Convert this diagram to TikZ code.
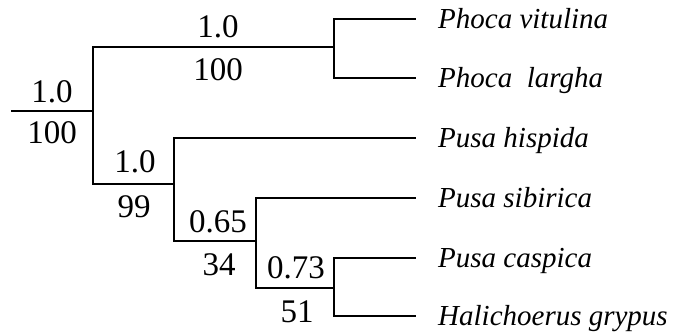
\documentclass[tikz,border=0pt]{standalone}
\usepackage{fontspec}
\setmainfont{Liberation Serif}
\begin{document}
\begin{tikzpicture}[x=1pt,y=-1pt,
  branch/.style={line width=2.2pt,line cap=rect},
  taxon/.style={anchor=base west,inner sep=0pt,font=\fontsize{29}{29}\selectfont\itshape},
  support/.style={anchor=base,inner sep=0pt,font=\fontsize{33}{33}\selectfont}]
\useasboundingbox (0,0) rectangle (678,332);
% internal nodes and the root stub
\coordinate (stub) at (12,111);
\coordinate (root) at (93,111);
\coordinate (phoca) at (334,47);
\coordinate (pusa) at (174,184);
\coordinate (n65) at (256,241);
\coordinate (n73) at (334,288);
% leaf tips
\coordinate (vit) at (415,19);
\coordinate (lar) at (415,78);
\coordinate (his) at (415,138);
\coordinate (sib) at (415,198);
\coordinate (cas) at (415,258);
\coordinate (gry) at (415,316);
% branches
\draw[branch] (stub) -- (root);
\draw[branch] (root) |- (phoca);
\draw[branch] (root) |- (pusa);
\draw[branch] (phoca) |- (vit);
\draw[branch] (phoca) |- (lar);
\draw[branch] (pusa) |- (his);
\draw[branch] (pusa) |- (n65);
\draw[branch] (n65) |- (sib);
\draw[branch] (n65) |- (n73);
\draw[branch] (n73) |- (cas);
\draw[branch] (n73) |- (gry);
% taxon names
\node[taxon] (tvit) at (438,28.5) {Phoca vitulina};
\node[taxon] (tlar) at (438,87.5) {Phoca\ \ largha};
\node[taxon] (this) at (438,147.5) {Pusa hispida};
\node[taxon] (tsib) at (438,207.5) {Pusa sibirica};
\node[taxon] (tcas) at (438,267.5) {Pusa caspica};
\node[taxon] (tgry) at (438,325.5) {Halichoerus grypus};
% support values: posterior above, bootstrap below
\node[support] (proot) at (52,102) {1.0};
\node[support] (broot) at (52,143) {100};
\node[support] (pphoca) at (218,37) {1.0};
\node[support] (bphoca) at (218,80) {100};
\node[support] (ppusa) at (135,172) {1.0};
\node[support] (bpusa) at (134,217) {99};
\node[support] (p65) at (218,232) {0.65};
\node[support] (b65) at (219,275) {34};
\node[support] (p73) at (296,278) {0.73};
\node[support] (b73) at (297,322) {51};
\end{tikzpicture}
\end{document}
